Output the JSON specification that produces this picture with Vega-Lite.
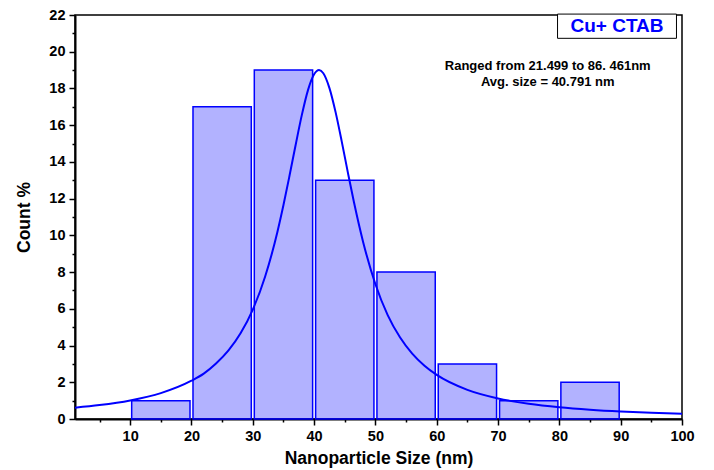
{
  "$schema": "https://vega.github.io/schema/vega-lite/v6.json",
  "width": 607,
  "height": 404,
  "autosize": "none",
  "padding": {"left": 75, "top": 15, "right": 32, "bottom": 51},
  "config": {
    "view": {"stroke": "#000000", "strokeWidth": 1.5},
    "axis": {
      "grid": false,
      "domainColor": "#000000",
      "domainWidth": 2,
      "tickColor": "#000000",
      "tickWidth": 1.5,
      "labelFont": "Liberation Sans",
      "labelFontWeight": "bold",
      "labelFontSize": 14.5,
      "labelColor": "#000000",
      "titleFont": "Liberation Sans",
      "titleFontWeight": "bold",
      "titleFontSize": 17.5,
      "titleColor": "#000000"
    }
  },
  "resolve": {"axis": {"x": "independent", "y": "independent"}},
  "layer": [
    {
      "data": {"values": [
        {"start": 10, "end": 20, "count": 1},
        {"start": 20, "end": 30, "count": 17},
        {"start": 30, "end": 40, "count": 19},
        {"start": 40, "end": 50, "count": 13},
        {"start": 50, "end": 60, "count": 8},
        {"start": 60, "end": 70, "count": 3},
        {"start": 70, "end": 80, "count": 1},
        {"start": 80, "end": 90, "count": 2}
      ]},
      "mark": {"type": "rect", "fill": "#0000ff", "fillOpacity": 0.3, "stroke": "#0000ff", "strokeWidth": 1.5, "xOffset": 1.5, "x2Offset": -1.5},
      "encoding": {
        "x": {"field": "start", "type": "quantitative",
          "scale": {"domain": [1, 100], "nice": false, "zero": false},
          "axis": {
            "orient": "bottom",
            "title": "Nanoparticle Size (nm)",
            "values": [10, 20, 30, 40, 50, 60, 70, 80, 90, 100],
            "labelOverlap": false,
            "labelBound": false,
            "labelFlush": false,
            "tickSize": 6,
            "labelPadding": 4,
            "titlePadding": 7
          }},
        "x2": {"field": "end"},
        "y": {"field": "count", "type": "quantitative",
          "scale": {"domain": [0, 22], "nice": false},
          "axis": {
            "orient": "left",
            "title": "Count %",
            "values": [0, 2, 4, 6, 8, 10, 12, 14, 16, 18, 20, 22],
            "labelOverlap": false,
            "labelBound": false,
            "labelFlush": false,
            "tickSize": 6,
            "labelPadding": 4,
            "titlePadding": 15
          }},
        "y2": {"datum": 0}
      }
    },
    {
      "data": {"values": [
        {"size": 1, "fit": 0.618},
        {"size": 5, "fit": 0.758},
        {"size": 10, "fit": 1.011},
        {"size": 15, "fit": 1.408},
        {"size": 20, "fit": 2.084},
        {"size": 22, "fit": 2.47},
        {"size": 24, "fit": 3.018},
        {"size": 26, "fit": 3.718},
        {"size": 28, "fit": 4.664},
        {"size": 30, "fit": 5.958},
        {"size": 32, "fit": 7.745},
        {"size": 34, "fit": 10.17},
        {"size": 35, "fit": 11.65},
        {"size": 36, "fit": 13.27},
        {"size": 37, "fit": 14.95},
        {"size": 38, "fit": 16.56},
        {"size": 39, "fit": 17.91},
        {"size": 40, "fit": 18.77},
        {"size": 40.8, "fit": 19.0},
        {"size": 41.5, "fit": 18.83},
        {"size": 42.5, "fit": 18.02},
        {"size": 43.5, "fit": 16.71},
        {"size": 44.5, "fit": 15.12},
        {"size": 45.5, "fit": 13.43},
        {"size": 46.5, "fit": 11.8},
        {"size": 48, "fit": 9.63},
        {"size": 50, "fit": 7.34},
        {"size": 52, "fit": 5.66},
        {"size": 54, "fit": 4.45},
        {"size": 56, "fit": 3.56},
        {"size": 58, "fit": 2.9},
        {"size": 60, "fit": 2.4},
        {"size": 65, "fit": 1.585},
        {"size": 70, "fit": 1.118},
        {"size": 75, "fit": 0.828},
        {"size": 80, "fit": 0.637},
        {"size": 85, "fit": 0.505},
        {"size": 90, "fit": 0.409},
        {"size": 95, "fit": 0.339},
        {"size": 100, "fit": 0.285}
      ]},
      "mark": {"type": "line", "color": "#0000ff", "strokeWidth": 2, "interpolate": "monotone"},
      "encoding": {
        "x": {"field": "size", "type": "quantitative",
          "axis": {"orient": "bottom", "title": null, "labels": false, "domain": false, "tickSize": 3,
            "values": [5, 15, 25, 35, 45, 55, 65, 75, 85, 95]}},
        "y": {"field": "fit", "type": "quantitative",
          "axis": {"orient": "left", "title": null, "labels": false, "domain": false, "tickSize": 3,
            "values": [1, 3, 5, 7, 9, 11, 13, 15, 17, 19, 21]}}
      }
    },
    {
      "data": {"values": [{"x1": 79.7, "x2": 99.1, "y1": 20.73, "y2": 22.05}]},
      "mark": {"type": "rect", "fill": "#ffffff", "stroke": "#000000", "strokeWidth": 1, "clip": false},
      "encoding": {
        "x": {"field": "x1", "type": "quantitative", "axis": null},
        "x2": {"field": "x2"},
        "y": {"field": "y1", "type": "quantitative", "axis": null},
        "y2": {"field": "y2"}
      }
    },
    {
      "data": {"values": [{"x": 89.4, "y": 21.39, "label": "Cu+ CTAB"}]},
      "mark": {"type": "text", "font": "Liberation Sans", "fontWeight": "bold", "fontSize": 19, "color": "#0000ff", "align": "center", "baseline": "middle"},
      "encoding": {
        "x": {"field": "x", "type": "quantitative", "axis": null},
        "y": {"field": "y", "type": "quantitative", "axis": null},
        "text": {"field": "label"}
      }
    },
    {
      "data": {"values": [
        {"x": 78.1, "y": 19.24, "label": "Ranged from 21.499 to 86. 461nm"},
        {"x": 78.1, "y": 18.37, "label": "Avg. size = 40.791 nm"}
      ]},
      "mark": {"type": "text", "font": "Liberation Sans", "fontWeight": "bold", "fontSize": 13, "color": "#000000", "align": "center", "baseline": "middle"},
      "encoding": {
        "x": {"field": "x", "type": "quantitative", "axis": null},
        "y": {"field": "y", "type": "quantitative", "axis": null},
        "text": {"field": "label"}
      }
    }
  ]
}
